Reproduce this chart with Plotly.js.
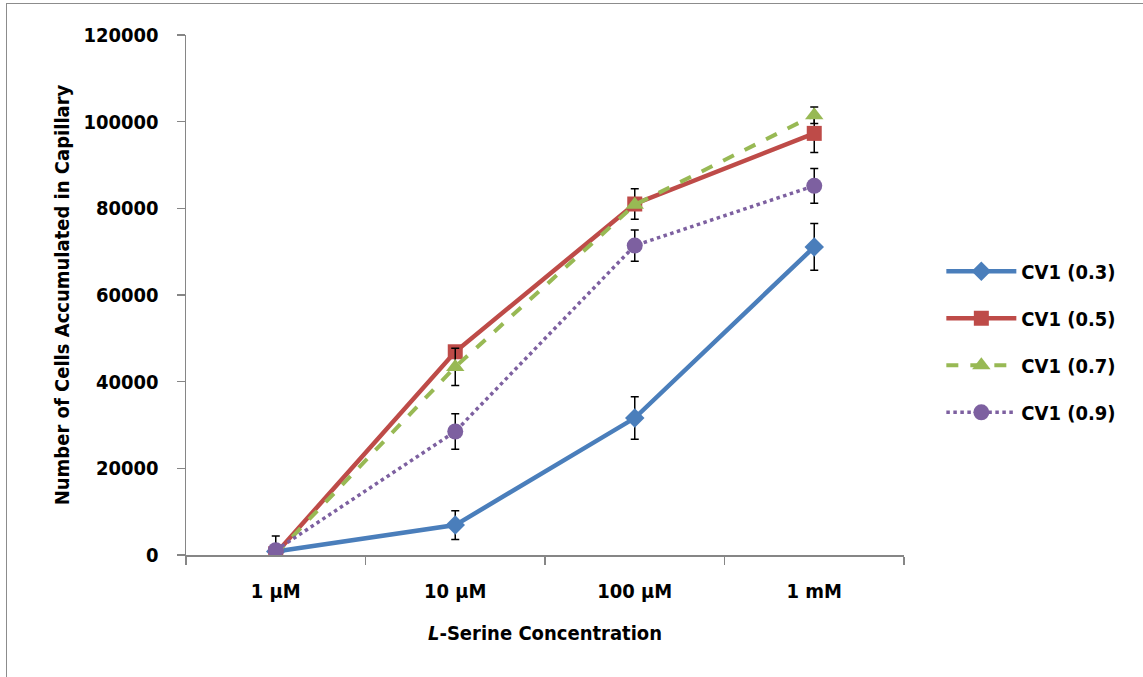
<!DOCTYPE html>
<html><head><meta charset="utf-8">
<script src="https://cdn.plot.ly/plotly-3.0.1.min.js"></script>
<style>
html,body{margin:0;padding:0;background:#fff;}
#frame{position:absolute;left:6px;top:3px;width:1150px;height:690px;border:1px solid #8c8c8c;}
#chart{position:absolute;left:0;top:0;width:1143px;height:677px;}
</style></head>
<body><div id="frame"></div><div id="chart"></div>
<script>
const categories = ["1 µM", "10 µM", "100 µM", "1 mM"];
const seriesNames = ["CV1 (0.3)", "CV1 (0.5)", "CV1 (0.7)", "CV1 (0.9)"];
const cv03 = [800, 6900, 31600, 71100];
const cv03err = [0, 3300, 4900, 5400];
const cv05 = [300, 46900, 81000, 97300];
const cv05err = [0, 0, 3500, 4400];
const cv07 = [200, 43400, 80800, 101500];
const cv07err = [0, 4300, 0, 1900];
const cv09 = [1100, 28500, 71400, 85200];
const cv09err = [3300, 4100, 3600, 4000];

const colors = ["#4A7EBB", "#BE4B48", "#98B954", "#7D60A0"];
const dashes = ["solid", "solid", "dash", "dot"];
const widths = [4.5, 4.5, 4, 3.5];
const symbols = ["diamond", "square", "triangle-up", "circle"];
const msizes = [15, 15, 16, 16];
const ys = [cv03, cv05, cv07, cv09];
const errs = [cv03err, cv05err, cv07err, cv09err];

const traces = ys.map((y, i) => ({
  type: "scatter", mode: "lines+markers",
  x: categories, y: y, name: seriesNames[i], legendgroup: "g" + i,
  line: {color: colors[i], width: widths[i], dash: dashes[i]},
  marker: {symbol: symbols[i], size: msizes[i], color: colors[i]},
  error_y: {type: "data", array: errs[i], visible: true, color: "#000", thickness: 1.5, width: 4}
}));

const fam = "'DejaVu Sans Condensed', 'DejaVu Sans', sans-serif";
const bold = {family: fam, size: 20, color: "#000", weight: "bold"};
const layout = {
  width: 1143, height: 677,
  paper_bgcolor: "rgba(0,0,0,0)", plot_bgcolor: "rgba(0,0,0,0)",
  margin: {l: 186, r: 239, t: 35, b: 122},
  font: {family: fam, size: 20, color: "#000"},
  showlegend: true,
  legend: {x: 1.052, y: 0.41, xanchor: "left", yanchor: "middle", traceorder: "grouped",
    tracegroupgap: 18, itemwidth: 70, font: bold},
  xaxis: {type: "category", range: [-0.5, 3.5], showline: true, linecolor: "#868686", linewidth: 1.5,
    ticks: "outside", tickson: "boundaries", ticklen: 8, tickcolor: "#868686", tickwidth: 1.2,
    showgrid: false, zeroline: false, ticklabelstandoff: 17,
    tickfont: bold,
    title: {text: "<b><i>L</i>-Serine Concentration</b>", standoff: 24, font: {family: fam, size: 20, color: "#000"}}},
  yaxis: {range: [0, 120000], dtick: 20000, showline: true, linecolor: "#868686", linewidth: 1.5,
    ticks: "outside", ticklen: 8, tickcolor: "#868686", tickwidth: 1.2,
    showgrid: false, zeroline: false, ticklabelstandoff: 14, tickformat: "d",
    tickfont: bold,
    title: {text: "<b>Number of Cells Accumulated in Capillary</b>", standoff: 8, font: {family: fam, size: 20, color: "#000"}}}
};
Plotly.newPlot("chart", traces, layout, {displayModeBar: false, staticPlot: true});
</script></body></html>
